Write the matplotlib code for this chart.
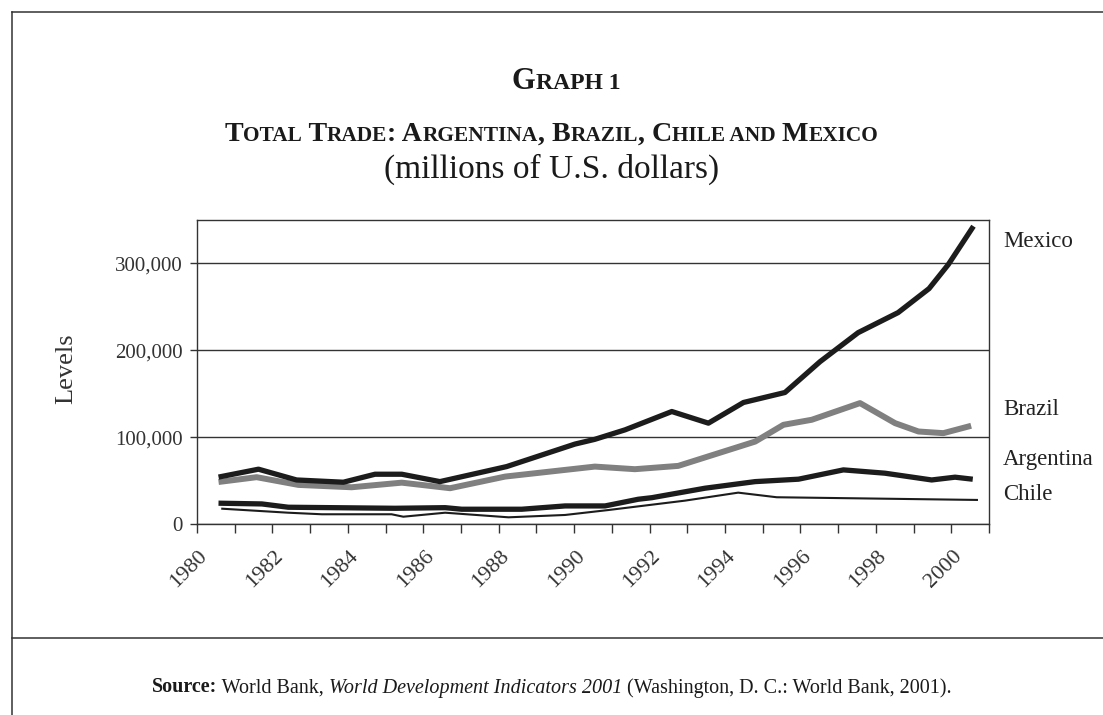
import matplotlib
matplotlib.use("Agg")
import matplotlib.pyplot as plt
from matplotlib.lines import Line2D
from matplotlib.offsetbox import TextArea, HPacker, AnnotationBbox
from matplotlib.transforms import ScaledTranslation
import numpy as np

plt.rcParams['font.family'] = ['Liberation Serif', 'DejaVu Serif']

# values (year, millions of US$)
label_years = list(range(1980, 2001, 2))

mexico_x = [1980.14, 1981.13, 1982.14, 1983.38, 1984.22, 1984.93, 1985.94, 1987.71,
            1989.52, 1990.05, 1990.85, 1992.09, 1993.06, 1993.99, 1995.09, 1996.02,
            1997.03, 1998.09, 1998.91, 1999.42, 2000.05]
mexico_y = [54600, 63100, 50700, 48100, 57300, 57300, 48800, 66100,
            92000, 97500, 108400, 129500, 116100, 139900, 151400, 186900,
            220300, 243400, 271000, 298700, 340300]

brazil_x = [1980.15, 1981.08, 1982.19, 1983.60, 1984.93, 1986.21, 1987.67, 1990.05,
            1991.11, 1992.26, 1994.30, 1995.05, 1995.80, 1997.08, 1998.01, 1998.63,
            1999.29, 1999.95]
brazil_y = [48800, 53900, 45000, 42300, 47600, 41200, 54600, 66100,
            63100, 66900, 94900, 114200, 120000, 139200, 116100, 106500,
            104600, 112200]

argentina_x = [1980.14, 1981.22, 1981.92, 1984.75, 1986.08, 1986.52, 1988.11, 1989.26,
               1990.32, 1991.20, 1991.56, 1992.97, 1994.30, 1995.45, 1996.64, 1997.74,
               1998.98, 1999.60, 2000.00]
argentina_y = [23900, 23100, 19300, 18100, 18800, 17000, 17000, 20800,
               20800, 28500, 30300, 41200, 48800, 51600, 62300, 58500,
               50700, 53900, 51900]

chile_x = [1980.17, 1981.92, 1982.81, 1984.66, 1984.97, 1986.08, 1987.76, 1989.26,
           1990.41, 1992.44, 1993.85, 1994.87, 2000.18]
chile_y = [17600, 13000, 11200, 11200, 8400, 13000, 7700, 10400,
           16100, 26900, 36100, 30800, 27700]

series_names = ['Mexico', 'Brazil', 'Argentina', 'Chile']
name_baselines = [247, 415, 465, 500]   # pixel rows of the side labels

W, H = 1103, 715
fig = plt.figure(figsize=(W / 100, H / 100), dpi=100)
ax = fig.add_axes([197 / W, 1 - 524 / H, (989 - 197) / W, (524 - 220) / H])

ink = '#1c1c1c'
ax.plot(chile_x, chile_y, color=ink, lw=1.5, zorder=3)
ax.plot(argentina_x, argentina_y, color=ink, lw=3.8, zorder=4)
ax.plot(brazil_x, brazil_y, color='#808080', lw=4.3, zorder=5)
ax.plot(mexico_x, mexico_y, color=ink, lw=3.8, zorder=6)

ax.set_xlim(1979.5, 2000.5)
ax.set_ylim(0, 350000)
ax.set_yticks([0, 100000, 200000, 300000])
ax.set_yticklabels(['0', '100,000', '200,000', '300,000'])
ax.yaxis.grid(True, color='#333333', lw=1.0)
ax.set_axisbelow(True)

ax.set_xticks(label_years)
ax.set_xticklabels([str(y) for y in label_years], rotation=45, ha='right',
                   va='center', rotation_mode='anchor')
ax.set_xticks(np.arange(1979.5, 2001, 1.0), minor=True)
ax.tick_params(axis='x', which='major', length=0, pad=21, labelsize=16)
ax.tick_params(axis='x', which='minor', length=6.5, width=1.0, color='#333333')
ax.tick_params(axis='y', length=5, width=1.0, color='#333333', pad=5,
               labelsize=15, labelcolor='#333333')
off = ScaledTranslation(-11 / 100, 0, fig.dpi_scale_trans)
for lab in ax.get_xticklabels():
    lab.set_transform(lab.get_transform() + off)
    lab.set_color('#333333')
for sp in ax.spines.values():
    sp.set_color('#333333')
    sp.set_linewidth(1.0)

for name, base in zip(series_names, name_baselines):
    fig.text(1003 / W, 1 - base / H, name, fontsize=16.5, va='baseline', ha='left',
             color='#222222')

fig.text(66 / W, 1 - 369 / H, 'Levels', rotation=90, fontsize=19, ha='center',
         va='center', color='#333333')


def small_caps(s, big, small, weight='bold'):
    sizes = []
    for ch in s:
        sizes.append(small if (ch.islower() or ch.isdigit()) else big)
    # a space takes the size of what follows it
    for i in range(len(s) - 1, -1, -1):
        if s[i] == ' ' and i + 1 < len(s):
            sizes[i] = sizes[i + 1]
    parts = []
    for ch, sz in zip(s, sizes):
        if parts and parts[-1][1] == sz:
            parts[-1][0] += ch.upper()
        else:
            parts.append([ch.upper(), sz])
    return [TextArea(t, textprops=dict(size=sz, weight=weight, color='#1a1a1a'))
            for t, sz in parts]


def put_line(children, ypix, desc_px, xc=0.5):
    box = HPacker(children=children, align='baseline', pad=0, sep=0)
    ab = AnnotationBbox(box, (xc, 1 - (ypix + desc_px) / H), xycoords='figure fraction',
                        frameon=False, box_alignment=(0.5, 0), pad=0)
    fig.add_artist(ab)


put_line(small_caps('Graph 1', 22, 17), 90, 6, xc=566 / W)
put_line(small_caps('Total Trade: Argentina, Brazil, Chile and Mexico', 20.2, 15.4), 141, 6)
put_line([TextArea('(millions of U.S. dollars)',
                   textprops=dict(size=24, color='#1a1a1a'))], 178, 7)

src = [TextArea('Source:', textprops=dict(size=14.5, weight='bold', color='#1a1a1a')),
       TextArea(' World Bank,', textprops=dict(size=14.5, color='#1a1a1a')),
       TextArea(' World Development Indicators 2001',
                textprops=dict(size=14.5, style='italic', color='#1a1a1a')),
       TextArea(' (Washington, D. C.: World Bank, 2001).',
                textprops=dict(size=14.5, color='#1a1a1a'))]
put_line(src, 693, 4.5)

# page frame
fx = 12 / W
frame = dict(color='#333333', lw=1.1, transform=fig.transFigure)
fig.add_artist(Line2D([fx, 1], [1 - 12 / H, 1 - 12 / H], **frame))
fig.add_artist(Line2D([fx, fx], [0, 1 - 12 / H], **frame))
fig.add_artist(Line2D([fx, 1], [1 - 638 / H, 1 - 638 / H], **frame))

fig.savefig('out.png', dpi=100)
